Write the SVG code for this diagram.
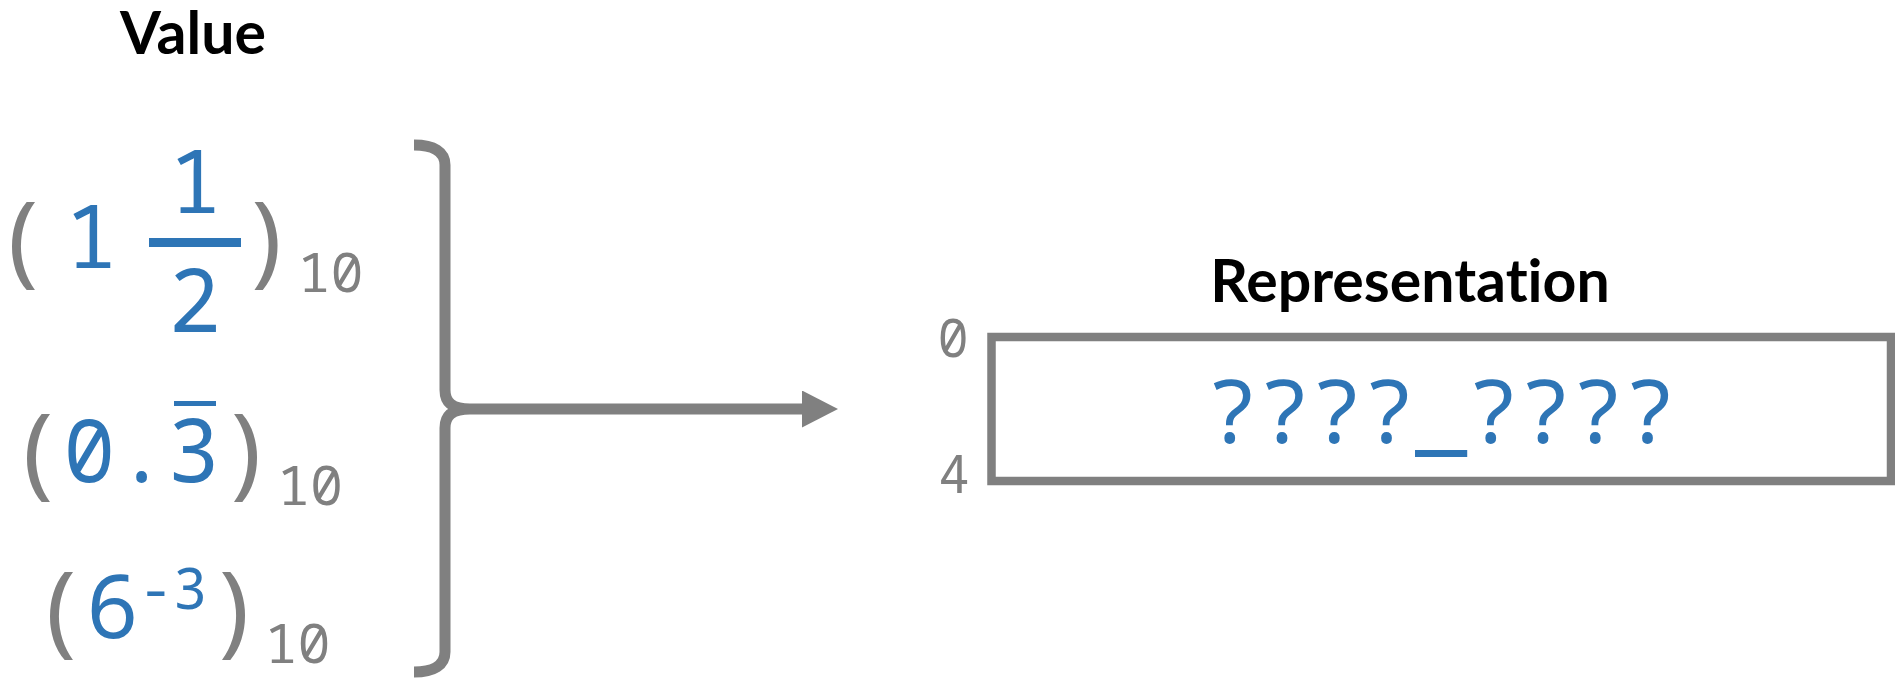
<svg xmlns="http://www.w3.org/2000/svg" width="1895" height="678" viewBox="0 0 1895 678">
  <style>
    .title { font-family: Lato, "Open Sans", "Liberation Sans", sans-serif; font-weight: 700; font-size: 59px; fill: #000; text-anchor: middle; font-variant-ligatures: none; }
    .mono { font-family: "Noto Sans Mono", "Roboto Mono", "Fira Mono", "DejaVu Sans Mono", monospace; text-anchor: middle; font-feature-settings: "zero" 1; }
    .val { fill: #2E75B6; font-size: 87px; }
    .sup { fill: #2E75B6; font-size: 57px; }
    .paren { fill: #808080; font-size: 100px; }
    .base { fill: #808080; font-size: 55px; }
    .idx { fill: #808080; font-size: 52px; }
    .bar { fill: #2E75B6; }
    .line { fill: none; stroke: #808080; stroke-width: 11; }
  </style>
  <defs>
    <marker id="arrow" markerUnits="userSpaceOnUse" markerWidth="36" markerHeight="37" refX="0" refY="18.5" orient="auto">
      <path d="M0,0 L36,18.5 L0,37 Z" fill="#808080"/>
    </marker>
  </defs>

  <!-- Value column -->
  <g id="value-title">
    <text class="title" x="193" y="54">Value</text>
  </g>

  <g id="value-mixed-fraction">
    <text class="mono paren" x="22" y="274">(</text>
    <text class="mono val" x="91" y="268">1</text>
    <text class="mono val" x="195" y="213">1</text>
    <rect class="bar" x="149" y="238" width="92" height="9"/>
    <text class="mono val" x="194.5" y="332">2</text>
    <text class="mono paren" x="267.5" y="274">)</text>
    <text class="mono base" x="330.5" y="292">10</text>
  </g>

  <g id="value-repeating-decimal">
    <text class="mono paren" x="37" y="486">(</text>
    <text class="mono val" x="141.5" y="482">0.3</text>
    <rect class="bar" x="174" y="401" width="42" height="5"/>
    <text class="mono paren" x="247" y="486">)</text>
    <text class="mono base" x="310" y="505">10</text>
  </g>

  <g id="value-power">
    <text class="mono paren" x="60" y="644">(</text>
    <text class="mono val" x="112.5" y="638">6</text>
    <text class="mono sup" x="173" y="609">-3</text>
    <text class="mono paren" x="235" y="644">)</text>
    <text class="mono base" x="297.5" y="663">10</text>
  </g>

  <!-- Representation -->
  <g id="representation-title">
    <text class="title" x="1410" y="302">Representation</text>
  </g>

  <g id="representation-box">
    <rect x="991.5" y="337" width="899.5" height="144" fill="none" stroke="#808080" stroke-width="8.5"/>
    <text class="mono idx" x="953" y="357">0</text>
    <text class="mono idx" x="954" y="493">4</text>
    <text class="mono val" x="1441" y="443">????_????</text>
  </g>

  <!-- Connectors: brace gathering the values, arrow to the representation -->
  <g id="connectors">
    <path class="line" d="M414,145 C434,145 445,152 445,165 L445,390 C445,402 452,409 470,409 M470,409 C452,409 445,416 445,428 L445,652 C445,665 434,672 414,672"/>
    <path class="line" d="M470,409 L802,409" marker-end="url(#arrow)"/>
  </g>
</svg>
